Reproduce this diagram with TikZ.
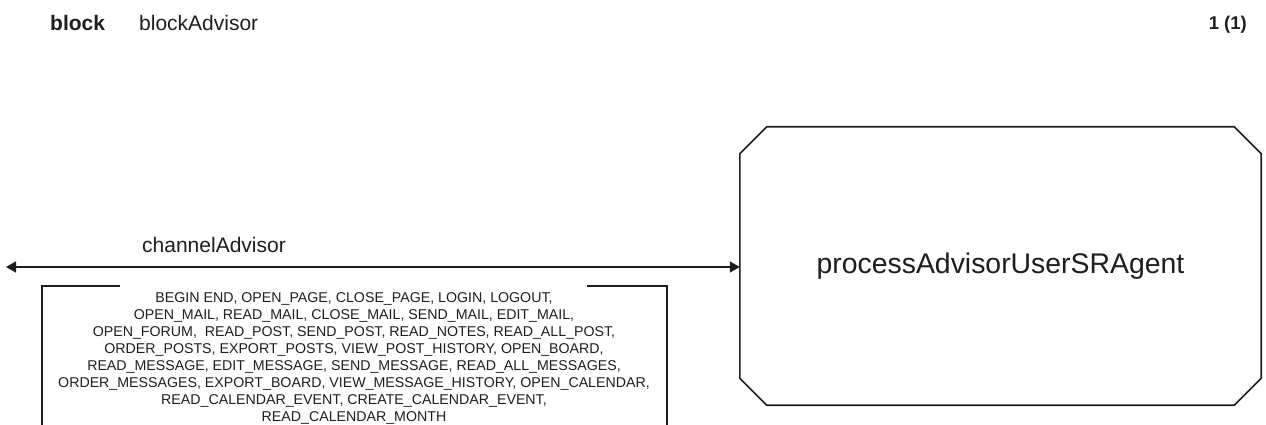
\documentclass[tikz,border=0pt]{standalone}
\usepackage{fontspec}
\setmainfont{Liberation Sans}
\usetikzlibrary{arrows.meta}
\definecolor{ink}{HTML}{1E1E1E}
\begin{document}
\begin{tikzpicture}[x=1pt,y=-1pt,
  line/.style={draw=ink,line width=1.6pt},
  hdr/.style={inner sep=0pt,anchor=base west,text=ink,font=\fontsize{21pt}{25pt}\selectfont},
  siglist/.style={inner sep=0pt,anchor=north,align=center,text=ink,
    font=\fontsize{14.2pt}{17pt}\selectfont}]
\useasboundingbox[fill=white] (0,0) rectangle (1266,425);

% page header
\node[hdr,font=\fontsize{21pt}{25pt}\selectfont\bfseries] (kind) at (50,31) {block};
\node[hdr] (title) at (139,31) {blockAdvisor};
\node[hdr,anchor=base east,font=\fontsize{18.5pt}{22pt}\selectfont\bfseries] (page) at (1247,30) {1 (1)};

% process with chamfered corners
\node[inner sep=0pt,minimum width=521pt,minimum height=278pt] (agent) at (1000.5,266) {};
\node[inner sep=0pt,text=ink,font=\fontsize{28.4pt}{32pt}\selectfont] (agentlbl) at (agent.center) {processAdvisorUserSRAgent};
\draw[line,line join=miter]
  ([xshift=27pt]agent.north west) -- ([xshift=-27pt]agent.north east)
  -- ([yshift=-27pt]agent.north east) -- ([yshift=27pt]agent.south east)
  -- ([xshift=-27pt]agent.south east) -- ([xshift=27pt]agent.south west)
  -- ([yshift=27pt]agent.south west) -- ([yshift=-27pt]agent.north west) -- cycle;

% channel to the environment
\coordinate (env) at (6,267);
\draw[line,{Triangle[length=10pt,width=11pt]}-{Triangle[length=10pt,width=11pt]}] (env) -- (agent.west |- env);
\node[hdr,anchor=base] (chan) at (214,252) {channelAdvisor};

% signal list
\node[siglist] (signals) at (354,292) {%
BEGIN END, OPEN\_PAGE, CLOSE\_PAGE, LOGIN, LOGOUT,\\
OPEN\_MAIL, READ\_MAIL, CLOSE\_MAIL, SEND\_MAIL, EDIT\_MAIL,\\
OPEN\_FORUM,\ \ READ\_POST, SEND\_POST, READ\_NOTES, READ\_ALL\_POST,\\
ORDER\_POSTS, EXPORT\_POSTS, VIEW\_POST\_HISTORY, OPEN\_BOARD,\\
READ\_MESSAGE, EDIT\_MESSAGE, SEND\_MESSAGE, READ\_ALL\_MESSAGES,\\
ORDER\_MESSAGES, EXPORT\_BOARD, VIEW\_MESSAGE\_HISTORY, OPEN\_CALENDAR,\\
READ\_CALENDAR\_EVENT, CREATE\_CALENDAR\_EVENT,\\
READ\_CALENDAR\_MONTH};
\draw[line] (120,286) -- (42,286) -- (42,426);
\draw[line] (587,286) -- (667,286) -- (667,426);
\end{tikzpicture}
\end{document}
